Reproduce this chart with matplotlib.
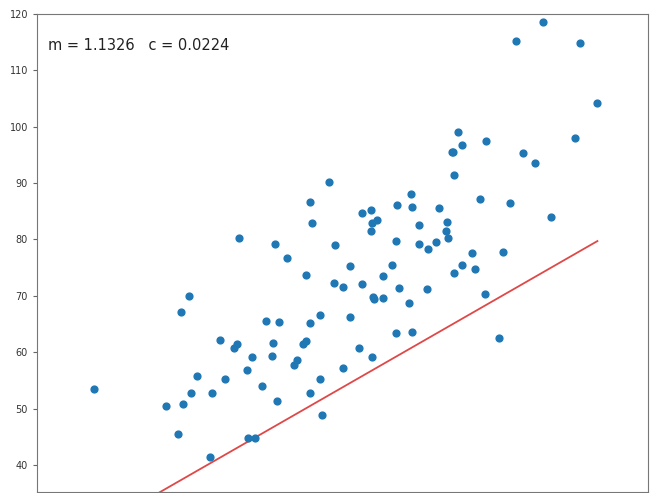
import numpy as np
import matplotlib
matplotlib.use("Agg")
import matplotlib.pyplot as plt

# data points (x, y)
X = [32.50, 53.43, 61.53, 47.48, 59.81, 55.14, 52.21, 39.30, 48.11, 52.55,
     45.42, 54.35, 44.16, 58.17, 56.73, 48.96, 44.69, 60.30, 45.62, 38.82,
     66.19, 65.42, 47.48, 41.58, 51.85, 59.37, 57.31, 63.62, 46.74, 50.56,
     52.22, 35.57, 42.44, 58.16, 57.50, 45.44, 61.90, 33.09, 36.44, 37.68,
     44.56, 43.32, 50.07, 43.87, 63.00, 32.67, 40.17, 53.58, 33.86, 64.71,
     38.12, 44.50, 40.60, 41.72, 51.09, 55.08, 41.38, 62.49, 49.20, 41.10,
     41.18, 50.19, 52.38, 50.14, 33.64, 39.56, 56.13, 57.36, 60.27, 35.68,
     31.59, 53.66, 46.68, 43.11, 70.35, 44.49, 57.50, 36.93, 55.81, 38.95,
     56.90, 56.87, 34.33, 59.05, 57.79, 54.28, 51.09, 50.28, 44.21, 38.01,
     32.94, 53.69, 68.77, 46.23, 68.32, 50.03, 49.24, 50.04, 48.15, 25.13]
Y = [31.71, 68.78, 62.56, 71.55, 87.23, 78.21, 79.64, 59.17, 75.33, 71.30,
     55.17, 82.48, 62.01, 75.39, 81.44, 60.72, 82.89, 97.38, 48.85, 56.88,
     83.88, 118.59, 57.25, 51.39, 75.38, 74.77, 95.46, 95.23, 79.05, 83.43,
     63.36, 41.41, 76.62, 96.77, 74.08, 66.59, 77.77, 50.72, 62.12, 60.81,
     52.68, 58.57, 82.91, 61.42, 115.24, 45.57, 54.08, 87.99, 52.73, 93.58,
     80.17, 65.10, 65.56, 65.28, 73.43, 71.14, 79.10, 86.52, 84.74, 59.36,
     61.68, 69.85, 86.10, 59.11, 69.90, 44.86, 85.50, 95.54, 70.25, 52.72,
     50.39, 63.64, 72.25, 57.81, 104.26, 86.64, 91.49, 55.23, 79.55, 44.85,
     80.21, 83.14, 55.72, 77.63, 99.05, 79.12, 69.59, 69.51, 73.69, 61.37,
     67.17, 85.67, 114.85, 90.12, 97.92, 81.54, 72.11, 85.23, 66.22, 53.45]

m = 1.1326
c = 0.0224

X = np.array(X)
Y = np.array(Y)
Y_pred = m * X + c

fig = plt.figure(figsize=(6.5, 4.93), dpi=100)
ax = fig.add_axes([0.057, 0.002, 0.940, 0.970])

ax.scatter(X, Y, s=24, color="#1f77b4", zorder=3)
ax.plot([min(X), max(X)], [min(Y_pred), max(Y_pred)], color="#e04848", lw=1.3)

ax.set_xlim(20, 74.9)
ax.set_ylim(35.2, 120)
ax.set_yticks([40, 50, 60, 70, 80, 90, 100, 110, 120])
ax.set_xticks([30, 40, 50, 60, 70])
ax.tick_params(axis="y", labelsize=7, labelcolor="#333333", length=3, color="#666666")
# x tick labels fall below the cropped picture, so only the tick marks stay
ax.tick_params(axis="x", labelbottom=False, length=3, color="#cccccc")
for s in ax.spines.values():
    s.set_color("#777777")

ax.text(0.018, 0.95, "m = 1.1326   c = 0.0224", transform=ax.transAxes,
        fontsize=10.5, color="#222222", va="top", ha="left")

fig.savefig("out.png", dpi=100)
